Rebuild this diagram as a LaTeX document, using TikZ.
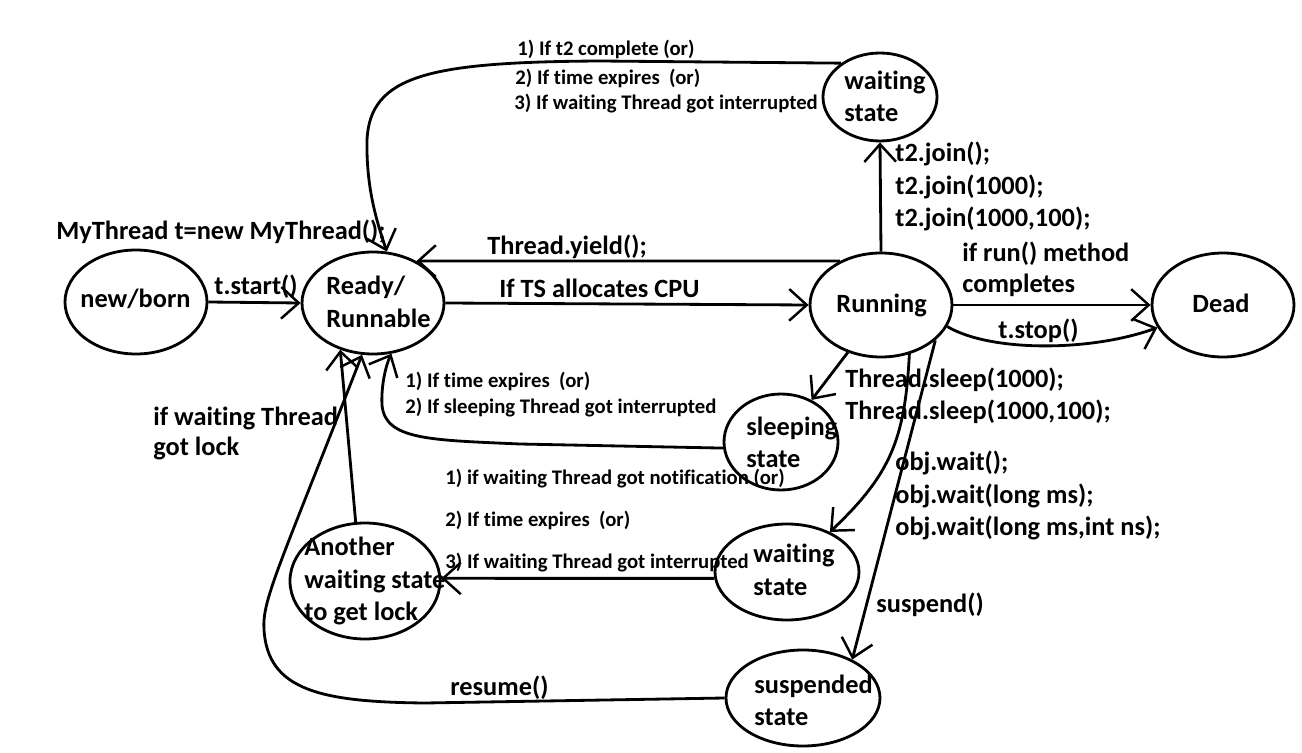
\documentclass[tikz,border=0pt]{standalone}
\usepackage{fontspec}
\setmainfont{Carlito}[Ligatures={NoCommon}]
\usetikzlibrary{arrows.meta,shapes.geometric}
\begin{document}
\begin{tikzpicture}[x=0.02cm,y=-0.02cm,
  line width=1.6pt,
  st/.style 2 args={draw, ellipse, minimum width=#1*0.02cm, minimum height=#2*0.02cm, inner sep=0pt},
  big/.style={anchor=base west, inner sep=0pt, font=\fontsize{15}{17}\selectfont\bfseries},
  sm/.style={anchor=base west, inner sep=0pt, font=\fontsize{11.8}{14}\selectfont\bfseries},
  arr/.style={-{Straight Barb[length=10pt,width=18pt,line width=1.4pt]}},
]
\fill[white] (0,0) rectangle (1302,753);
\useasboundingbox (0,0) rectangle (1302,753);

% states
\node[st={142}{104}] (nb) at (136,302) {};
\node[st={142}{102}] (rdy) at (373,303) {};
\node[st={142}{104}] (run) at (881,305) {};
\node[st={142}{104}] (dead) at (1223,305) {};
\node[st={114}{88}] (wt) at (880,97) {};
\node[st={114}{96}] (slp) at (781,442) {};
\node[st={144}{96}] (wl) at (787,572) {};
\node[st={154}{96}] (sus) at (803,698) {};
\node[st={150}{116}] (ano) at (365,581) {};

% texts inside states
\node[big] (tnb) at (79,308) {new/born};
\node[big] (trdy1) at (325,295) {Ready/};
\node[big] (trdy2) at (325,328) {Runnable};
\node[big] (trun) at (835,313) {Running};
\node[big] (tdead) at (1191,313) {Dead};
\node[big] (twt1) at (843,90) {waiting};
\node[big] (twt2) at (843,122) {state};
\node[big] (tslp1) at (745,435) {sleeping};
\node[big] (tslp2) at (745,467) {state};
\node[big] (twl1) at (752,562) {waiting};
\node[big] (twl2) at (752,595) {state};
\node[big] (tsus1) at (753,693) {suspended};
\node[big] (tsus2) at (753,725) {state};
\node[big] (tano1) at (303,555) {Another};
\node[big] (tano2) at (303,588) {waiting state};
\node[big] (tano3) at (303,620) {to get lock};

% connectors
\draw[arr] (nb.east) -- (rdy.west);
\draw[arr] (rdy.east) -- (run.west);
\draw[arr] (run.133) -- (rdy.44);
\draw[arr] (run.north) -- (wt.south);
\draw[arr] (wt.139) -- (600,61) .. controls (430,62) and (370,75) .. (367,140) .. controls (366,190) and (378,225) .. (rdy.75);
\draw[arr] (run.east) -- (dead.west);
\draw[arr] (run.-18) .. controls (990,352) and (1090,352) .. (dead.199);
\draw[arr] (run.235) -- (slp.54);
\draw[arr] (slp.186) -- (520,444) .. controls (430,440) and (385,440) .. (382,405) .. controls (381,385) and (386,365) .. (rdy.-70);
\draw[arr] (run.-60) .. controls (905,440) and (890,475) .. (wl.43);
\draw[arr] (run.-33) -- (sus.38);
\draw[arr] (wl.185) -- (ano.2);
\draw[arr] (ano.99) -- (rdy.235);
\draw[arr] (sus.180) -- (425,703) .. controls (320,702) and (268,690) .. (264,630) .. controls (262,600) and (278,570) .. (rdy.258);

% labels
\node[sm] (a1) at (516,56) {1) If t2 complete (or)};
\node[sm] (a2) at (514,85) {2) If time expires~ (or)};
\node[sm] (a3) at (513,110) {3) If waiting Thread got interrupted};
\node[big] (j1) at (894,162) {t2.join();};
\node[big] (j2) at (894,195) {t2.join(1000);};
\node[big] (j3) at (894,227) {t2.join(1000,100);};
\node[big] (my) at (55,240) {MyThread t=new MyThread();};
\node[big] (yl) at (486,255) {Thread.yield();};
\node[big] (rm1) at (961,262) {if run() method};
\node[big] (rm2) at (961,293) {completes};
\node[big] (ts) at (213,295) {t.start()};
\node[big] (cpu) at (498,297) {If TS allocates CPU};
\node[big] (stp) at (997,338) {t.stop()};
\node[big] (sl1) at (844,387) {Thread.sleep(1000);};
\node[big] (sl2) at (844,419) {Thread.sleep(1000,100);};
\node[sm] (b1) at (404,387) {1) If time expires~ (or)};
\node[sm] (b2) at (404,413) {2) If sleeping Thread got interrupted};
\node[big] (gl1) at (152,425) {if waiting Thread};
\node[big] (gl2) at (152,455) {got lock};
\node[big] (w1) at (894,470) {obj.wait();};
\node[big] (w2) at (894,503) {obj.wait(long ms);};
\node[big] (w3) at (894,535) {obj.wait(long ms,int ns);};
\node[sm] (c1) at (444,484) {1) if waiting Thread got notification (or)};
\node[sm] (c2) at (444,526) {2) If time expires~ (or)};
\node[sm] (c3) at (444,568) {3) If waiting Thread got interrupted};
\node[big] (sp) at (875,612) {suspend()};
\node[big] (rs) at (449,695) {resume()};
\end{tikzpicture}
\end{document}
